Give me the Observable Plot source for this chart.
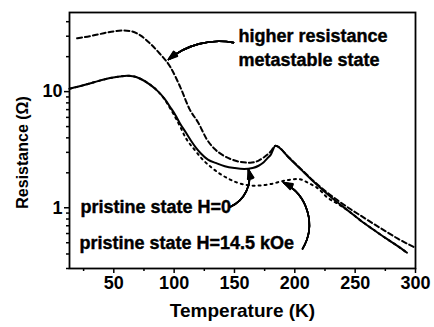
<!DOCTYPE html>
<html>
<head>
<meta charset="utf-8">
<script src="https://cdn.jsdelivr.net/npm/d3@7"></script>
<script src="https://cdn.jsdelivr.net/npm/@observablehq/plot@0.6"></script>
<style>
  html, body { margin: 0; padding: 0; background: #fff; }
  #chart svg { display: block; }
</style>
</head>
<body>
<div id="chart"></div>
<script>
// ---- data ----
const tSolid = [13.3, 20, 33, 47, 55, 61, 67, 72, 80, 86, 92, 97, 101, 105, 110, 114, 118, 122, 128, 135, 142, 150, 158, 165, 170, 174, 177, 180, 184, 195, 205, 215, 225, 235, 245, 255, 265, 275, 285, 293];
const rSolid = [10.6, 11.0, 12.0, 13.1, 13.5, 13.7, 13.5, 12.9, 11.5, 10.2, 8.7, 7.3, 6.3, 5.3, 4.4, 3.78, 3.3, 2.95, 2.6, 2.42, 2.28, 2.2, 2.16, 2.2, 2.3, 2.45, 2.65, 2.85, 3.42, 2.7, 2.14, 1.70, 1.37, 1.12, 0.93, 0.77, 0.65, 0.55, 0.47, 0.41];

const tDashed = [19.6, 30, 39, 48, 58, 65, 72, 80, 88, 97, 105, 113, 120, 127, 133, 140, 147, 155, 163, 170, 175, 180, 184, 195, 205, 215, 225, 235, 245, 255, 265, 275, 285, 300];
const rDashed = [28.8, 30.0, 31.4, 32.8, 33.6, 33.0, 30.5, 26.0, 21.3, 16.2, 11.0, 7.0, 5.4, 3.9, 3.25, 2.85, 2.62, 2.48, 2.44, 2.55, 2.75, 3.05, 3.42, 2.72, 2.16, 1.72, 1.40, 1.17, 0.99, 0.85, 0.73, 0.63, 0.545, 0.452];

const tDotted = [13.3, 20, 33, 47, 55, 61, 67, 72, 80, 86, 92, 97, 101, 105, 109, 117, 124, 131, 138, 145, 152, 159, 166, 173, 180, 186, 191, 197, 202, 206, 210, 214, 218, 222, 226, 231, 235, 245, 255, 265, 275, 285, 293];
const rDotted = [10.6, 11.0, 12.0, 13.1, 13.5, 13.7, 13.5, 12.9, 11.5, 10.2, 8.6, 7.1, 6.0, 5.0, 4.1, 3.15, 2.58, 2.22, 1.96, 1.78, 1.65, 1.58, 1.55, 1.56, 1.60, 1.66, 1.71, 1.75, 1.77, 1.74, 1.66, 1.58, 1.50, 1.38, 1.25, 1.15, 1.09, 0.93, 0.77, 0.65, 0.55, 0.47, 0.41];

const xMajor = [50, 100, 150, 200, 250, 300];
const xMinor = [25, 75, 125, 175, 225, 275];
const yMajor = [1, 10];
const yMinor = [0.3, 0.4, 0.5, 0.6, 0.7, 0.8, 0.9, 2, 3, 4, 5, 6, 7, 8, 9, 20, 30, 40];

const xLabel = "Temperature (K)";
const yLabel = "Resistance (Ω)";

const noteTexts = ["higher resistance", "metastable state", "pristine state H=0", "pristine state H=14.5 kOe"];
const noteT = [153.3, 153.3, 22.4, 21.6];
const noteR = [27.0, 16.75, 0.905, 0.443];

const arrowT1 = [149.2, 146.7, 206.4];
const arrowR1 = [26.4, 1.02, 0.443];
const arrowT2 = [95.3, 161.6, 190.6];
const arrowR2 = [18.9, 2.13, 1.65];
const arrowBend = [-25, -40, -47];

// ---- tables ----
const solid = tSolid.map((t, i) => ({T: t, R: rSolid[i]}));
const dashed = tDashed.map((t, i) => ({T: t, R: rDashed[i]}));
const dotted = tDotted.map((t, i) => ({T: t, R: rDotted[i]}));
const notes = noteTexts.map((s, i) => ({s, T: noteT[i], R: noteR[i]}));
const arrows = arrowT1.map((t, i) => ({x1: t, y1: arrowR1[i], x2: arrowT2[i], y2: arrowR2[i], bend: arrowBend[i]}));

const font = "Liberation Sans, Arial, Helvetica, sans-serif";

// filled-looking arrowheads: overlay several head angles
const headAngles = [6, 14, 22, 30, 38];
const arrowMarks = [];
for (const a of arrows) {
  for (const h of headAngles) {
    arrowMarks.push(Plot.arrow([a], {x1: "x1", y1: "y1", x2: "x2", y2: "y2", bend: a.bend, stroke: "#000", strokeWidth: 1.6, headLength: 9, headAngle: h}));
  }
}

const chart = Plot.plot({
  width: 434,
  height: 327,
  marginLeft: 69,
  marginRight: 19,
  marginTop: 12,
  marginBottom: 59,
  style: {fontFamily: font, color: "#000", background: "#fff", overflow: "visible"},
  x: {domain: [13.3, 300]},
  y: {type: "log", domain: [0.3, 48]},
  marks: [
    Plot.axisX(xMajor, {tickSize: 5, tickPadding: 3, fontSize: 18, fontWeight: "bold", label: null, strokeWidth: 1.5}),
    Plot.axisX(xMinor, {tickSize: 3, tickFormat: () => "", label: null, strokeWidth: 1.5}),
    Plot.axisY(yMajor, {tickSize: 5, tickPadding: 2, fontSize: 18, fontWeight: "bold", label: null, tickFormat: d => String(d), strokeWidth: 1.5}),
    Plot.axisY(yMinor, {tickSize: 3, tickFormat: () => "", label: null, strokeWidth: 1.5}),
    Plot.text([xLabel], {frameAnchor: "bottom", dy: 42, text: d => d, fontSize: 19, fontWeight: "bold", textAnchor: "middle", lineAnchor: "middle"}),
    Plot.text([yLabel], {frameAnchor: "left", dx: -47, dy: 12, text: d => d, rotate: -90, fontSize: 16, fontWeight: "bold", textAnchor: "middle", lineAnchor: "middle"}),
    Plot.line(solid, {x: "T", y: "R", stroke: "#000", strokeWidth: 2, curve: "monotone-x"}),
    Plot.line(dashed, {x: "T", y: "R", stroke: "#000", strokeWidth: 2, strokeDasharray: "5,3", curve: "monotone-x"}),
    Plot.line(dotted, {x: "T", y: "R", stroke: "#000", strokeWidth: 2, strokeDasharray: "2,4", curve: "monotone-x"}),
    Plot.text(notes, {x: "T", y: "R", text: "s", textAnchor: "start", lineAnchor: "bottom", fontSize: 18, fontWeight: "bold", stroke: "#000", strokeWidth: 0.4, fill: "#000"}),
    ...arrowMarks,
    Plot.frame({stroke: "#000", strokeWidth: 1.8})
  ]
});
document.getElementById("chart").appendChild(chart);
</script>
</body>
</html>
